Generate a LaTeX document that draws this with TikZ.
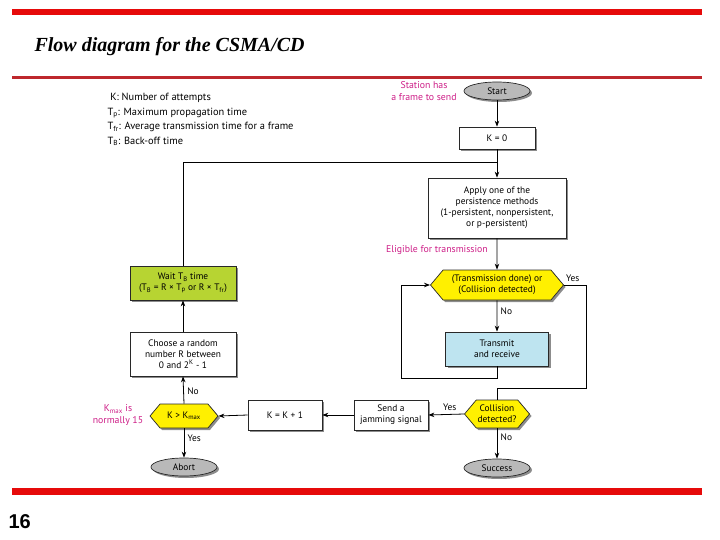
\documentclass[tikz,border=0pt]{standalone}
\usepackage{fontspec}
\setmainfont{Liberation Serif}
\newfontfamily\diagfont{PT Sans}
\newfontfamily\arialfont{Liberation Sans}
\usetikzlibrary{shapes.geometric,shapes.symbols,shadows,arrows.meta}
\definecolor{barred}{RGB}{230,10,10}
\definecolor{linered}{RGB}{190,40,45}
\definecolor{notemag}{RGB}{205,30,135}
\definecolor{hexyellow}{RGB}{255,240,0}
\definecolor{waitgreen}{RGB}{183,212,50}
\definecolor{transblue}{RGB}{190,228,240}
\definecolor{termgray}{RGB}{185,185,185}
\definecolor{edgegray}{RGB}{40,40,40}
\tikzset{
  every node/.style={font=\diagfont\fontsize{9.4}{11}\selectfont},
  shadowed/.style={drop shadow={shadow xshift=2pt,shadow yshift=-2pt,fill=black!45,opacity=1}},
  procbox/.style={draw=edgegray,line width=0.7pt,fill=white,align=center,shadowed,inner sep=2pt},
  termnode/.style={ellipse,draw=edgegray,line width=0.7pt,fill=termgray,minimum width=66pt,minimum height=18pt,inner sep=0pt,shadowed},
  hexnode/.style={signal,signal to=east and west,signal pointer angle=100,draw=edgegray,line width=0.7pt,fill=hexyellow,align=center,inner sep=1pt,shadowed},
  notetext/.style={text=notemag,align=center,font=\diagfont\fontsize{9.8}{11.5}\selectfont},
  flow/.style={draw=black,line width=0.8pt},
  arr/.style={flow,-{Stealth[length=6pt,width=4.5pt]}},
  lbl/.style={font=\diagfont\fontsize{9.4}{11}\selectfont}
}
\begin{document}
\begin{tikzpicture}[x=1pt,y=-1pt]
\useasboundingbox (0,0) rectangle (720,540);
% frame bars
\fill[barred] (12,9) rectangle (702,15);
\fill[linered] (12,76) rectangle (702,79);
\fill[barred] (12,488) rectangle (702,495);
\node[anchor=west,font=\fontsize{20}{23}\selectfont\bfseries\itshape] (title) at (31,47) {Flow diagram for the CSMA/CD};
\node[anchor=west,font=\arialfont\fontsize{20}{23}\selectfont\bfseries] (pagenum) at (5,522) {16};
% legend
\node[anchor=west,align=left,font=\diagfont\fontsize{10.4}{12}\selectfont] (leg) at (104,119.5) {\ K: Number of attempts\\[2.6pt]T\textsubscript{p}: Maximum propagation time\\[2.6pt]T\textsubscript{fr}: Average transmission time for a frame\\[2.6pt]T\textsubscript{B}: Back-off time};
% nodes
\node[termnode] (start) at (497,91) {Start};
\node[notetext] (station) at (424,91) {Station has\\a frame to send};
\node[procbox,minimum width=76pt,minimum height=22pt] (k0) at (497,138) {K = 0};
\node[procbox,minimum width=138pt,minimum height=60pt] (persist) at (497,208) {Apply one of the\\persistence methods\\(1-persistent, nonpersistent,\\or p-persistent)};
\node[notetext] (elig) at (437,250) {Eligible for transmission};
\node[hexnode,minimum width=133pt,minimum height=30pt] (done) at (497,285) {(Transmission done) or\\(Collision detected)};
\node[procbox,fill=transblue,minimum width=103pt,minimum height=34pt] (trans) at (497,349) {Transmit\\and receive};
\node[hexnode,minimum width=65pt,minimum height=28pt] (coll) at (497,414) {Collision\\detected?};
\node[procbox,minimum width=74pt,minimum height=30pt] (jam) at (391,415) {Send a\\jamming signal};
\node[procbox,minimum width=74pt,minimum height=30pt] (kinc) at (285,415) {K = K + 1};
\node[hexnode,minimum width=68pt,minimum height=24pt] (kmax) at (184,416) {K {\textgreater} K\textsubscript{max}};
\node[notetext] (knote) at (118,415) {K\textsubscript{max} is\\normally 15};
\node[termnode] (abort) at (184,467) {Abort};
\node[termnode] (success) at (497,468) {Success};
\node[procbox,minimum width=106pt,minimum height=44pt] (choose) at (183,354) {Choose a random\\number R between\\0 and 2\textsuperscript{K} - 1};
\node[procbox,fill=waitgreen,minimum width=106pt,minimum height=34pt] (wait) at (183,283) {Wait T\textsubscript{B} time\\(T\textsubscript{B} = R {\texttimes} T\textsubscript{p} or R {\texttimes} T\textsubscript{fr})};
% coordinates
\coordinate (j1) at (497,162);
\coordinate (yesr) at (586,285);
\coordinate (yesb) at (586,388);
\coordinate (yesj) at (497,388);
\coordinate (loopb) at (497,378);
\coordinate (loopl) at (401,378);
\coordinate (loopt) at (401,285);
% connectors
\draw[arr] (start) -- (k0);
\draw[arr] (k0) -- (persist);
\draw[flow] (wait.north) |- (j1);
\draw[arr] (persist) -- (done);
\draw[arr] (done) -- node[lbl,right,pos=0.35] {No} (trans);
\draw[flow] (done.east) -- node[lbl,above,pos=0.4] {Yes} (yesr) -- (yesb) -- (yesj) -- (coll.north);
\draw[flow] (trans.south) -- (loopb) -- (loopl) -- (loopt);
\draw[arr] (loopt) -- (done.west);
\draw[arr] (coll.west) -- node[lbl,above,pos=0.4] {Yes} (jam.east);
\draw[arr] (coll.south) -- node[lbl,right,pos=0.3] {No} (success.north);
\draw[arr] (jam.west) -- (kinc.east);
\draw[arr] (kinc.west) -- (kmax.east);
\draw[arr] (kmax.north) -- node[lbl,right,pos=0.45] {No} (choose.south);
\draw[arr] (kmax.south) -- node[lbl,right,pos=0.35] {Yes} (abort.north);
\draw[arr] (choose.north) -- (wait.south);
\end{tikzpicture}
\end{document}
